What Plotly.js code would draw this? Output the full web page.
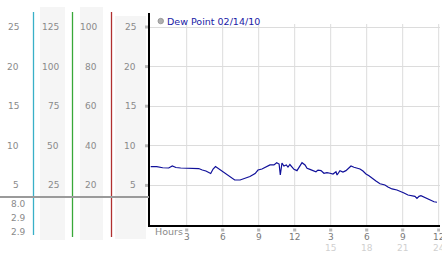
<!DOCTYPE html>
<html><head><meta charset="utf-8">
<script src="https://cdn.plot.ly/plotly-3.0.1.min.js"></script>
<style>html,body{margin:0;padding:0;background:#fff}#c{width:442px;height:253px}</style>
</head><body><div id="c"></div><script>
// ---- data ----
const hours = [0,0.5,1,1.5,1.8,2.1,2.5,3,3.5,4,4.3,4.6,5,5.2,5.4,5.7,6,6.2,6.6,7,7.45,7.86,8.27,8.7,8.94,9.27,9.6,9.94,10.27,10.5,10.7,10.8,10.94,11.1,11.3,11.44,11.6,
  11.77,11.94,12.19,12.44,12.61,12.86,13.03,13.27,13.52,13.77,13.94,14.19,14.44,14.69,14.94,15.19,15.44,15.53,15.77,16.02,16.27,16.52,16.69,16.94,17.19,17.44,17.69,17.94,
  18.19,18.44,18.77,19.11,19.52,19.77,20.11,20.52,20.77,21.11,21.44,21.77,22.02,22.19,22.36,22.52,22.77,23.02,23.27,23.61,23.86];
const dewPoint = [7.36,7.36,7.23,7.2,7.45,7.26,7.2,7.2,7.2,7.13,6.94,6.82,6.5,7.07,7.39,7.07,6.69,6.44,6.0,5.68,5.68,5.87,6.12,6.5,6.94,7.07,7.32,7.58,7.58,7.87,7.7,6.31,7.83,7.45,7.58,7.32,7.64,
  7.36,7.03,6.86,7.58,7.87,7.58,7.16,7.03,6.86,6.73,6.94,6.86,6.53,6.6,6.53,6.44,6.73,6.31,6.86,6.69,6.86,7.16,7.45,7.29,7.16,7.07,6.82,6.44,
  6.22,5.9,5.56,5.21,5.05,4.8,4.55,4.42,4.29,4.04,3.79,3.66,3.62,3.37,3.62,3.7,3.54,3.28,3.12,2.94,2.87];
const seriesName = 'Dew Point 02/14/10';
const yTickVals = [25,20,15,10,5];
const col1Labels = ['25','20','15','10','5'];
const col2Labels = ['125','100','75','50','25'];
const col3Labels = ['100','80','60','40','20'];
const col4Labels = ['25','20','15','10','5'];
const summaryLabels = ['8.0','2.9','2.9'];
const xTickVals = [3,6,9,12,15,18,21,24];
const xTickTop = ['3','6','9','12','3','6','9','12'];
const xTickBottom = ['','','','','15','18','21','24'];
const xTitle = 'Hours';

// ---- layout helpers (pixel -> paper) ----
const W=442,H=253,ML=150,MR=2,MT=13,MB=28;
const PW=W-ML-MR, PH=H-MT-MB;
const px = x => (x-ML)/PW;
const py = y => (H-MB-y)/PH;
const FONT = 'DejaVu Sans';
const shapes = [], ann = [];

// gray bands
[[40,65,7,240],[80,103,7,240],[115,146,16,239]].forEach(b=>{
  shapes.push({type:'rect',xref:'paper',yref:'paper',x0:px(b[0]),x1:px(b[1]),y0:py(b[3]),y1:py(b[2]),fillcolor:'#f5f5f5',line:{width:0},layer:'below'});
});
// colored separators
[[33.5,12,235,'#38b0c8'],[72.5,12,237,'#38a838'],[111.5,12,237,'#b03030']].forEach(l=>{
  shapes.push({type:'line',xref:'paper',yref:'paper',x0:px(l[0]),x1:px(l[0]),y0:py(l[2]),y1:py(l[1]),line:{color:l[3],width:1.3}});
});
// horizontal separator
shapes.push({type:'line',xref:'paper',yref:'paper',x0:px(0),x1:px(149),y0:py(197),y1:py(197),line:{color:'#9a9a9a',width:2}});
// vertical grid
xTickVals.forEach(v=>{
  shapes.push({type:'line',xref:'x',yref:'paper',x0:v,x1:v,y0:0,y1:py(24),line:{color:'#dcdcdc',width:1},layer:'below'});
});
// left axis tick glyphs
yTickVals.forEach(v=>{
  shapes.push({type:'rect',xref:'paper',yref:'y',x0:px(145),x1:px(148),y0:v-0.19,y1:v+0.19,fillcolor:'#b8b8b8',line:{width:0}});
});
// bottom tick glyphs
xTickVals.forEach(v=>{
  shapes.push({type:'rect',xref:'x',yref:'paper',x0:v-0.13,x1:v+0.13,y0:py(231.5),y1:py(228.5),fillcolor:'#b8b8b8',line:{width:0}});
});
// legend marker
shapes.push({type:'circle',xref:'paper',yref:'paper',x0:px(158),x1:px(163.5),y0:py(23.8),y1:py(18.3),fillcolor:'#b0b0b0',line:{color:'#909090',width:0.8}});

const lab = (text,x,yref,y,anchor,color,size)=>({text,xref:'paper',yref,x,y,xanchor:anchor||'right',yanchor:'middle',showarrow:false,font:{family:FONT,size:size||9,color:color||'#8a8a8a'}});
[[col1Labels,20.5],[col2Labels,60.5],[col3Labels,98.5],[col4Labels,138]].forEach(c=>{
  c[0].forEach((t,i)=>ann.push(lab(t,px(c[1]),'y',yTickVals[i])));
});
summaryLabels.forEach((t,i)=>ann.push(lab(t,px(27.5),'paper',py(204+14*i))));
ann.push(lab(seriesName,px(164.5),'paper',py(21),'left','#2020a6',9.5));
ann.push(lab(xTitle,px(152.5),'paper',py(231.5),'left','#8a8a8a',9.5));
xTickVals.forEach((v,i)=>{
  ann.push({text:xTickTop[i],xref:'x',yref:'paper',x:v,y:py(237.5),xanchor:'center',yanchor:'middle',showarrow:false,font:{family:FONT,size:9,color:'#7a7a7a'}});
  if(xTickBottom[i]) ann.push({text:xTickBottom[i],xref:'x',yref:'paper',x:v,y:py(247.5),xanchor:'center',yanchor:'middle',showarrow:false,font:{family:FONT,size:9,color:'#d0d0d0'}});
});

const trace = {x:hours,y:dewPoint,type:'scatter',mode:'lines',name:seriesName,line:{color:'#10109a',width:1.2},showlegend:false,hoverinfo:'skip'};
const layout = {
  width:W,height:H,margin:{l:ML,r:MR,t:MT,b:MB,pad:0},
  paper_bgcolor:'#fff',plot_bgcolor:'#fff',showlegend:false,
  xaxis:{range:[(ML-150.7)/12,(W-MR-150.7)/12],showgrid:false,zeroline:false,showticklabels:false,ticks:'',showline:true,linecolor:'#000',linewidth:2,fixedrange:true},
  yaxis:{range:[0,PH/7.92],tickvals:yTickVals,showgrid:true,gridcolor:'#dcdcdc',gridwidth:1,zeroline:false,showticklabels:false,ticks:'',showline:true,linecolor:'#000',linewidth:2,fixedrange:true},
  shapes,annotations:ann
};
Plotly.newPlot('c',[trace],layout,{displayModeBar:false,staticPlot:true});
</script></body></html>
